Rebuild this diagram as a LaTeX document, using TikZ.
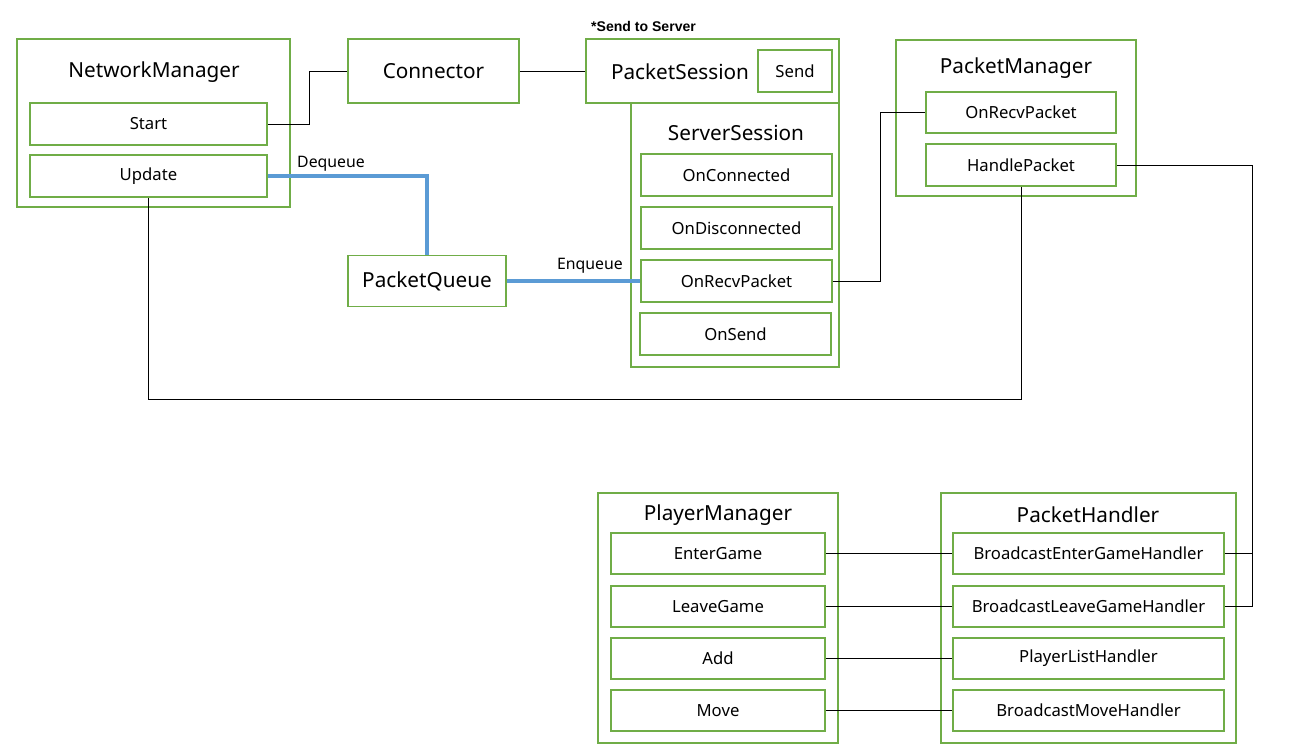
\documentclass[tikz,border=0pt]{standalone}
\usepackage{fontspec}
\setmainfont{Noto Sans}
\newfontfamily\notefont{Liberation Sans}
\definecolor{boxgreen}{HTML}{70AD47}
\definecolor{qblue}{HTML}{5B9BD5}

\begin{document}
\begin{tikzpicture}[x=0.02cm,y=-0.02cm,
        frame/.style={draw=boxgreen, line width=1.1pt, inner sep=0pt},
        item/.style={frame, minimum height=0.84cm, font=\fontsize{9.5}{11}\selectfont},
        title/.style={font=\fontsize{11.8}{14}\selectfont},
        wire/.style={line width=0.5pt},
        queue/.style={draw=qblue, line width=2pt},
        lbl/.style={font=\fontsize{9}{11}\selectfont, inner sep=1pt}]
        \useasboundingbox (0,0) rectangle (1295,753);
        % network manager
        \node[frame, minimum width=5.46cm, minimum height=3.36cm] (netmgr) at (153.5,123) {};
        \node[title] (netmgrT) at (154,72) {NetworkManager};
        \node[item, minimum width=4.74cm] (start) at (148.5,124) {Start};
        \node[item, minimum width=4.74cm] (update) at (148.5,176) {Update};
        % connector and session
        \node[frame, title, minimum width=3.42cm, minimum height=1.28cm] (conn) at (433.5,71) {Connector};
        \node[frame, minimum width=5.06cm, minimum height=1.28cm] (psess) at (712.5,71) {};
        \node[title] (psessT) at (680,72) {PacketSession};
        \node[item, minimum width=1.48cm] (send) at (795,71) {Send};
        \node[anchor=west, font=\notefont\bfseries\fontsize{8}{10}\selectfont] (sendnote) at (585,26) {*Send to Server};
        \node[frame, minimum width=4.16cm, minimum height=5.28cm] (ssess) at (735,235) {};
        \node[title] (ssessT) at (736,133) {ServerSession};
        \node[item, minimum width=3.82cm] (sconn) at (736.5,175) {OnConnected};
        \node[item, minimum width=3.82cm] (sdisc) at (736.5,228) {OnDisconnected};
        \node[item, minimum width=3.82cm] (srecv) at (736.5,281) {OnRecvPacket};
        \node[item, minimum width=3.82cm] (ssend) at (735.5,334) {OnSend};
        % packet manager
        \node[frame, minimum width=4.8cm, minimum height=3.12cm] (pktmgr) at (1016,118) {};
        \node[title] (pktmgrT) at (1016,68) {PacketManager};
        \node[item, minimum width=3.8cm, minimum height=0.82cm] (precv) at (1021,112.5) {OnRecvPacket};
        \node[item, minimum width=3.8cm] (phandle) at (1021,165) {HandlePacket};
        % queue
        \node[frame, title, minimum width=3.16cm, minimum height=1.02cm] (pqueue) at (427,281) {PacketQueue};
        % player manager
        \node[frame, minimum width=4.8cm, minimum height=5cm] (plmgr) at (718,618) {};
        \node[title] (plmgrT) at (718,515) {PlayerManager};
        \node[item, minimum width=4.28cm, minimum height=0.82cm] (enter) at (718,553.5) {EnterGame};
        \node[item, minimum width=4.28cm, minimum height=0.82cm] (leave) at (718,606.5) {LeaveGame};
        \node[item, minimum width=4.28cm, minimum height=0.82cm] (add) at (718,658.5) {Add};
        \node[item, minimum width=4.28cm, minimum height=0.82cm] (move) at (718,710.5) {Move};
        % packet handler
        \node[frame, minimum width=5.9cm, minimum height=5cm] (pkthdl) at (1088.5,618) {};
        \node[title] (pkthdlT) at (1088,515) {PacketHandler};
        \node[item, minimum width=5.42cm, minimum height=0.82cm] (benter) at (1088.5,553.5) {BroadcastEnterGameHandler};
        \node[item, minimum width=5.42cm, minimum height=0.82cm] (bleave) at (1088.5,606.5) {BroadcastLeaveGameHandler};
        \node[item, minimum width=5.42cm, minimum height=0.82cm] (plist) at (1088.5,658.5) {PlayerListHandler};
        \node[item, minimum width=5.42cm, minimum height=0.82cm] (bmove) at (1088.5,710.5) {BroadcastMoveHandler};
        \coordinate (bus) at (1252,606.5);

        % connections
        \draw[wire] (start.east) -- ++(41,0) |- (conn.west);
        \draw[wire] (conn.east) -- (psess.west);
        \draw[queue] (update.east) -| (pqueue.north);
        \node[lbl] (deq) at (331,164) {Dequeue};
        \draw[queue] (pqueue.east) -- (srecv.west);
        \node[lbl] (enq) at (590,266) {Enqueue};
        \draw[wire] (srecv.east) -- ++(47,0) |- (precv.west);
        \draw[wire] (phandle.south) -- ++(0,212) -| (update.south);
        \draw[wire] (phandle.east) -| (bus) -- (bleave.east);
        \draw[wire] (benter.east) -- (benter.east -| bus);
        \draw[wire] (enter.east) -- (benter.west);
        \draw[wire] (leave.east) -- (bleave.west);
        \draw[wire] (add.east) -- (plist.west);
        \draw[wire] (move.east) -- (bmove.west);
    \end{tikzpicture}
\end{document}
